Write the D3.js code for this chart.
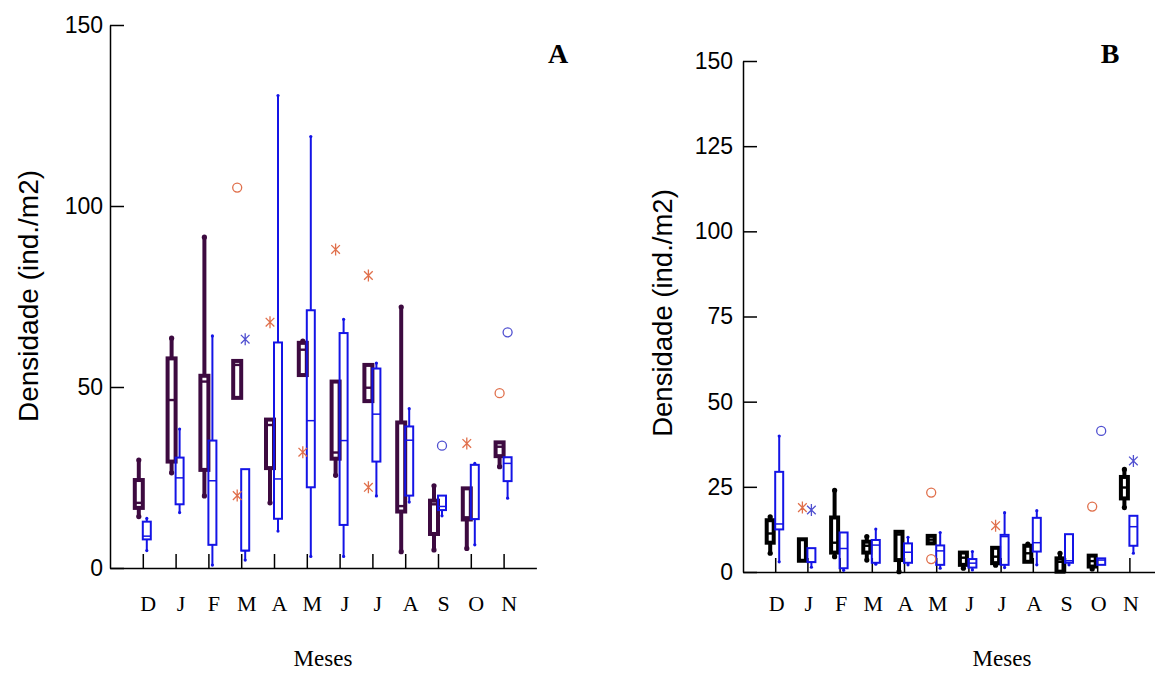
<!DOCTYPE html>
<html><head><meta charset="utf-8">
<script src="https://cdn.jsdelivr.net/npm/d3@7"></script>
<style>body{margin:0;background:#fff}</style>
</head><body>
<svg id="c" width="1155" height="673"></svg>
<script>
// ---------- DATA ----------
const months = ["D","J","F","M","A","M","J","J","A","S","O","N"];
const yTicksA = [0, 50, 100, 150];
const yTicksB = [0, 25, 50, 75, 100, 125, 150];

// Panel A – first series (dark purple)
const aDarkLo  = [14.2, 26.3, 19.9, 47.0, 18.0, 53.3, 25.6, 46.1,  4.5,  5.0,  5.4, 28.0];
const aDarkQ1  = [16.6, 29.4, 27.1, 47.0, 27.6, 53.3, 30.2, 46.1, 15.6,  9.4, 13.4, 30.9];
const aDarkMed = [18.0, 46.4, 51.5, 56.1, 39.5, 60.3, 31.9, 49.8, 17.1, 17.6, 14.0, 33.5];
const aDarkQ3  = [24.3, 57.9, 53.1, 57.2, 41.0, 62.2, 51.5, 56.1, 40.2, 18.6, 22.0, 34.7];
const aDarkHi  = [29.8, 63.5, 91.4, 57.2, 41.0, 62.7, 51.5, 56.1, 72.1, 22.7, 22.0, 34.7];
// Panel A – second series (blue)
const aBlueLo  = [ 4.8, 15.3,  0.8,  2.2, 10.2,  3.2,  3.2, 19.9, 18.2, 14.4,  6.4, 19.3];
const aBlueQ1  = [ 7.9, 17.6,  6.4,  4.8, 13.6, 22.3, 11.9, 29.4, 20.0, 16.0, 13.5, 24.0];
const aBlueMed = [ 8.8, 24.9, 24.1,  4.8, 24.6, 40.7, 35.2, 42.5, 35.3, 17.0, 13.5, 28.9];
const aBlueQ3  = [12.8, 30.5, 35.2, 27.3, 62.3, 71.2, 64.9, 55.1, 39.1, 20.0, 28.5, 30.6];
const aBlueHi  = [13.7, 38.4, 64.1, 27.3,130.5,119.2, 68.7, 56.6, 44.0, 20.0, 28.9, 30.6];
// Panel A outliers: month index, series ("dark"/"blue"), value, marker
const aOutMonth  = [3, 3, 3, 4, 5, 6, 7, 7, 9, 10, 11, 11];
const aOutSeries = ["dark","dark","blue","dark","dark","dark","dark","dark","blue","dark","dark","blue"];
const aOutValue  = [105.1, 20.0, 63.2, 67.9, 32.0, 88.0, 80.8, 22.3, 33.8, 34.4, 48.3, 65.1];
const aOutShape  = ["o","*","*","*","*","*","*","*","o","*","o","o"];

// Panel B – first series (black)
const bDarkLo  = [ 5.5, 3.3,  4.5,  3.5,  0.1,  8.4, 1.1, 2.0, 3.0, 0.1, 0.9, 18.9];
const bDarkQ1  = [ 8.6, 3.3,  5.7,  5.7,  3.5,  8.4, 2.1, 2.6, 3.0, 0.1, 1.6, 21.6];
const bDarkMed = [11.3, 3.3,  8.6,  7.7, 11.0,  9.5, 4.2, 4.5, 5.5, 3.0, 3.2, 24.8];
const bDarkQ3  = [15.2, 9.6, 16.0,  8.9, 11.8, 10.6, 5.7, 7.1, 7.7, 4.0, 4.8, 27.9];
const bDarkHi  = [16.2, 9.6, 24.0, 10.4, 11.8, 10.6, 5.7, 7.1, 8.2, 5.5, 4.8, 30.1];
// Panel B – second series (blue)
const bBlueLo  = [ 3.0, 1.4,  0.5,  2.3,  2.1,  1.1, 0.6,  1.3,  2.1,  2.1, 2.1,  5.5];
const bBlueQ1  = [12.5, 2.9,  1.1,  2.7,  2.7,  2.1, 1.3,  2.1,  6.0,  2.7, 2.1,  7.7];
const bBlueMed = [14.1, 2.9,  6.9,  7.9,  5.8,  6.2, 2.6, 10.4,  8.6,  3.3, 3.5, 13.3];
const bBlueQ3  = [29.4, 7.0, 11.6,  9.4,  8.4,  7.8, 3.8, 10.9, 15.9, 11.1, 4.0, 16.5];
const bBlueHi  = [39.9, 7.0, 11.6, 12.6, 10.2, 11.6, 6.0, 17.4, 18.0, 11.1, 4.0, 16.5];
// Panel B outliers
const bOutMonth  = [1, 1, 5, 5, 7, 10, 10, 11];
const bOutSeries = ["dark","blue","dark","dark","dark","dark","blue","blue"];
const bOutValue  = [18.9, 18.2, 23.3, 3.8, 13.6, 19.2, 41.4, 32.6];
const bOutShape  = ["*","*","o","o","*","o","o","*"];

// ---------- DRAWING ----------
const svg = d3.select("#c");
const outColor = {dark: "#e0704c", blue: "#5050d0"};

function asteriskPath(s){
  const d = s*0.72;
  return `M0,${-s}L0,${s}M${-d},${-d}L${d},${d}M${-d},${d}L${d},${-d}`;
}

function panel(o){
  const g = svg.append("g");
  const x = d3.scaleLinear().domain([0, 13]).range(o.xRange);
  const y = d3.scaleLinear().domain([0, 150]).range(o.yRange);

  // x axis
  const xa = g.append("g").attr("transform", `translate(0,${o.yRange[0]})`)
    .call(d3.axisBottom(x).tickValues(d3.range(1, 13)).tickFormat(d => months[d-1])
      .tickSizeInner(-o.tick).tickSizeOuter(0).tickPadding(o.xPad));
  xa.attr("font-size", null).attr("font-family", null);
  xa.selectAll("text").attr("font-family", "'Liberation Serif', 'Times New Roman', serif")
    .attr("font-size", 22).attr("dx", o.xLabelDx).attr("fill", "#000");
  xa.selectAll("line, path").attr("stroke", "#000").attr("stroke-width", 1.5);

  // y axis
  const ya = g.append("g").attr("transform", `translate(${o.xRange[0]},0)`)
    .call(d3.axisLeft(y).tickValues(o.yTicks).tickSizeInner(-o.tick).tickSizeOuter(0).tickPadding(o.yPad));
  ya.attr("font-size", null).attr("font-family", null);
  ya.selectAll("text").attr("font-family", "'Liberation Sans', Arial, sans-serif")
    .attr("font-size", 23).attr("fill", "#000");
  ya.selectAll("line, path").attr("stroke", "#000").attr("stroke-width", 1.5);

  function series(s, off, color, sw, bw, capR){
    const gg = g.append("g");
    months.forEach((m, i) => {
      const cx = x(i + 1) + off;
      if (s.hi[i] > s.q3[i]) {
        gg.append("line").attr("x1", cx).attr("x2", cx).attr("y1", y(s.q3[i])).attr("y2", y(s.hi[i]))
          .attr("stroke", color).attr("stroke-width", sw);
        gg.append("circle").attr("cx", cx).attr("cy", y(s.hi[i])).attr("r", capR).attr("fill", color);
      }
      if (s.lo[i] < s.q1[i]) {
        gg.append("line").attr("x1", cx).attr("x2", cx).attr("y1", y(s.q1[i])).attr("y2", y(s.lo[i]))
          .attr("stroke", color).attr("stroke-width", sw);
        gg.append("circle").attr("cx", cx).attr("cy", y(s.lo[i])).attr("r", capR).attr("fill", color);
      }
      gg.append("rect").attr("x", cx - bw/2).attr("y", y(s.q3[i]))
        .attr("width", bw).attr("height", Math.max(0.5, y(s.q1[i]) - y(s.q3[i])))
        .attr("fill", "none").attr("stroke", color).attr("stroke-width", sw);
      gg.append("line").attr("x1", cx - bw/2).attr("x2", cx + bw/2)
        .attr("y1", y(s.med[i])).attr("y2", y(s.med[i]))
        .attr("stroke", color).attr("stroke-width", Math.max(1.5, sw*0.6));
    });
  }
  series(o.dark, o.darkOff, o.darkColor, 4, o.darkW, 2.6);
  series(o.blue, o.blueOff, "#1414e6", 2, 8, 1.6);

  // outliers
  const og = g.append("g");
  o.out.month.forEach((mi, k) => {
    const ser = o.out.series[k];
    const cx = x(mi + 1) + (ser === "dark" ? o.darkOff : o.blueOff);
    const cy = y(o.out.value[k]);
    const c = outColor[ser];
    if (o.out.shape[k] === "o") {
      og.append("circle").attr("cx", cx).attr("cy", cy).attr("r", 4.5)
        .attr("fill", "none").attr("stroke", c).attr("stroke-width", 1.3);
    } else {
      og.append("path").attr("transform", `translate(${cx},${cy})`).attr("d", asteriskPath(6))
        .attr("fill", "none").attr("stroke", c).attr("stroke-width", 1.3);
    }
  });

  // titles
  g.append("text").attr("transform", `translate(${o.yTitleX},${o.yTitleY}) rotate(-90)`)
    .attr("text-anchor", "middle").attr("font-family", "'Liberation Sans', Arial, sans-serif")
    .attr("font-size", o.yTitleSize).text("Densidade (ind./m2)");
  g.append("text").attr("x", o.xTitleX).attr("y", 666).attr("text-anchor", "middle")
    .attr("font-family", "'Liberation Serif', 'Times New Roman', serif").attr("font-size", 23).text("Meses");
  g.append("text").attr("x", o.letterX).attr("y", 63).attr("text-anchor", "middle")
    .attr("font-family", "'Liberation Serif', 'Times New Roman', serif").attr("font-weight", "bold")
    .attr("font-size", 28).text(o.letter);
}

panel({
  xRange: [110, 536.4], yRange: [568, 25], yTicks: yTicksA, tick: 14, xPad: 27, yPad: 7, xLabelDx: 5,
  dark: {lo: aDarkLo, q1: aDarkQ1, med: aDarkMed, q3: aDarkQ3, hi: aDarkHi},
  blue: {lo: aBlueLo, q1: aBlueQ1, med: aBlueMed, q3: aBlueQ3, hi: aBlueHi},
  darkOff: -4, blueOff: 4, darkColor: "#3d0a40", darkW: 8,
  out: {month: aOutMonth, series: aOutSeries, value: aOutValue, shape: aOutShape},
  yTitleX: 38, yTitleY: 296, yTitleSize: 28, xTitleX: 323, letterX: 558, letter: "A"
});
panel({
  xRange: [743, 743 + 32.2*13], yRange: [572, 61], yTicks: yTicksB, tick: 14, xPad: 23, yPad: 10, xLabelDx: 1,
  dark: {lo: bDarkLo, q1: bDarkQ1, med: bDarkMed, q3: bDarkQ3, hi: bDarkHi},
  blue: {lo: bBlueLo, q1: bBlueQ1, med: bBlueMed, q3: bBlueQ3, hi: bBlueHi},
  darkOff: -5, blueOff: 4, darkColor: "#000000", darkW: 7,
  out: {month: bOutMonth, series: bOutSeries, value: bOutValue, shape: bOutShape},
  yTitleX: 672, yTitleY: 313, yTitleSize: 27.5, xTitleX: 1002, letterX: 1110, letter: "B"
});
</script>
</body></html>
